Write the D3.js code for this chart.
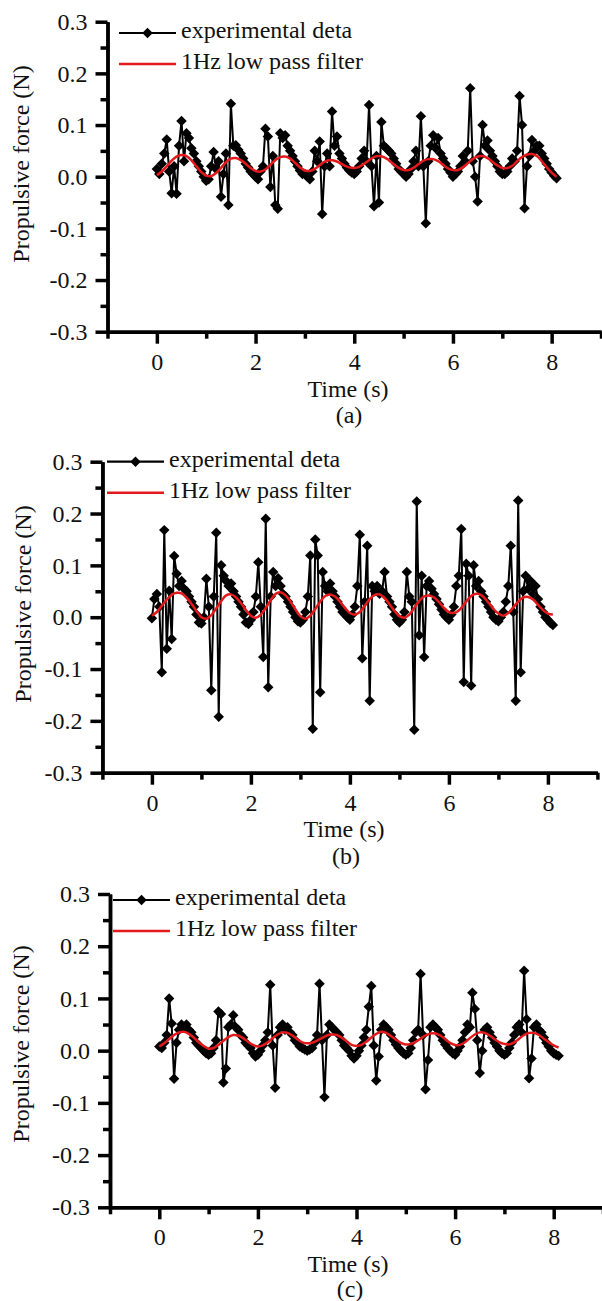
<!DOCTYPE html>
<html>
<head>
<meta charset="UTF-8" />
<title>Propulsive force vs time</title>
<script src="https://d3js.org/d3.v7.min.js"></script>
<style>
  body { margin: 0; background: #fff; }
  svg text { font-family: "Liberation Serif", "Times New Roman", serif; fill: #111; }
</style>
</head>
<body>
<svg width="602" height="1301"></svg>
<script>
// sampling intervals (s)
const dtExp = 0.05;
const dtFilt = 0.1;

const xMajor = [0, 2, 4, 6, 8];
const xMinor = [-1, 1, 3, 5, 7, 9];
const yMajor = [-0.3, -0.2, -0.1, 0.0, 0.1, 0.2, 0.3];
const yMinor = [-0.25, -0.15, -0.05, 0.05, 0.15, 0.25];
const legendLabels = ["experimental deta", "1Hz low pass filter"];
const xTitle = "Time (s)";
const yTitle = "Propulsive force (N)";

// (a) experimental data, one value every 0.05 s
const expA = [
  0.015, 0.005, 0.025, 0.045, 0.072, 0.010, -0.032, 0.020, -0.033, 0.060, 0.108, 0.030, 0.084, 0.075, 0.055, 0.045, 0.030, 0.020, 0.010, 0.000,
  -0.008, -0.005, 0.020, 0.048, 0.015, 0.030, -0.039, 0.005, 0.045, -0.055, 0.141, 0.060, 0.061, 0.052, 0.045, 0.035, 0.025, 0.018, 0.010, 0.005,
  0.000, -0.005, 0.010, 0.020, 0.093, 0.078, -0.020, 0.040, -0.055, -0.062, 0.084, 0.075, 0.080, 0.060, 0.050, 0.040, 0.030, 0.020, 0.012, 0.005,
  0.005, 0.000, -0.005, 0.010, 0.050, 0.030, 0.068, -0.072, 0.020, 0.045, 0.020, 0.126, 0.060, 0.078, 0.045, 0.035, 0.025, 0.018, 0.012, 0.008,
  0.005, 0.010, 0.020, 0.035, 0.050, 0.030, 0.139, 0.020, -0.057, 0.040, -0.050, 0.106, 0.060, 0.055, 0.050, 0.045, 0.035, 0.025, 0.015, 0.010,
  0.005, 0.000, 0.005, 0.015, 0.030, 0.050, 0.020, 0.117, 0.020, -0.090, 0.030, 0.060, 0.080, 0.055, 0.075, 0.045, 0.035, 0.025, 0.015, 0.008,
  0.000, 0.005, 0.010, 0.020, 0.040, 0.030, 0.050, 0.171, 0.030, 0.000, -0.048, 0.040, 0.100, 0.060, 0.070, 0.050, 0.040, 0.030, 0.020, 0.010,
  0.005, 0.005, 0.010, 0.020, 0.035, 0.030, 0.050, 0.156, 0.100, -0.061, 0.020, 0.040, 0.071, 0.050, 0.060, 0.060, 0.045, 0.035, 0.025, 0.015, 0.008, 0.002, -0.003
];
// (a) 1 Hz low pass, one value every 0.1 s
const filtA = [
  0.003, 0.010, 0.020, 0.031, 0.039, 0.042, 0.040, 0.032, 0.020, 0.009,
  0.002, 0.001, 0.007, 0.017, 0.028, 0.035, 0.036, 0.032, 0.025, 0.017,
  0.011, 0.010, 0.014, 0.023, 0.032, 0.038, 0.039, 0.035, 0.027, 0.018,
  0.012, 0.011, 0.015, 0.022, 0.029, 0.032, 0.031, 0.027, 0.022, 0.018,
  0.017, 0.019, 0.025, 0.032, 0.038, 0.040, 0.038, 0.032, 0.024, 0.017,
  0.013, 0.013, 0.017, 0.024, 0.031, 0.034, 0.034, 0.030, 0.023, 0.016,
  0.013, 0.013, 0.018, 0.026, 0.034, 0.039, 0.040, 0.036, 0.029, 0.022,
  0.017, 0.017, 0.021, 0.030, 0.038, 0.043, 0.044, 0.040, 0.030, 0.018,
  0.008, 0.000
];

// (b)
const expB = [
  -0.002, 0.035, 0.045, 0.020, -0.106, 0.168, -0.061, 0.051, -0.042, 0.118, 0.084, 0.060, 0.070, 0.055, 0.050, 0.040, 0.030, 0.020, 0.005, -0.010,
  -0.012, 0.000, 0.074, 0.020, -0.141, 0.040, 0.163, -0.192, 0.100, 0.080, 0.070, 0.060, 0.065, 0.050, 0.040, 0.030, 0.020, 0.005, -0.010, -0.013,
  -0.005, 0.010, 0.040, 0.106, 0.020, -0.077, 0.190, -0.135, 0.040, 0.087, 0.060, 0.075, 0.060, 0.045, 0.040, 0.030, 0.020, 0.010, 0.000, -0.008,
  -0.010, -0.005, 0.010, 0.040, 0.119, -0.215, 0.150, 0.119, -0.145, 0.087, 0.060, 0.050, 0.065, 0.050, 0.040, 0.030, 0.020, 0.010, 0.005, 0.000,
  -0.005, 0.005, 0.020, 0.060, 0.159, -0.079, 0.030, 0.138, -0.161, 0.060, 0.050, 0.060, 0.045, 0.050, 0.087, 0.040, 0.030, 0.020, 0.005, -0.005,
  -0.010, -0.005, 0.010, 0.087, 0.040, 0.030, -0.217, 0.223, -0.035, 0.080, -0.077, 0.060, 0.070, 0.055, 0.045, 0.035, 0.025, 0.015, 0.005, 0.000,
  -0.005, 0.005, 0.020, 0.060, 0.080, 0.170, -0.125, 0.103, 0.080, -0.132, 0.100, 0.060, 0.070, 0.050, 0.040, 0.030, 0.020, 0.010, 0.000, -0.005,
  -0.008, 0.000, 0.010, 0.030, 0.060, 0.138, 0.010, -0.161, 0.225, -0.106, 0.050, 0.080, 0.055, 0.070, 0.045, 0.060, 0.035, 0.020, 0.010, 0.000, -0.005, -0.011, -0.015
];
const filtB = [
  0.003, 0.010, 0.022, 0.034, 0.043, 0.047, 0.046, 0.038, 0.026, 0.012,
  0.000, -0.003, 0.004, 0.017, 0.031, 0.042, 0.044, 0.038, 0.027, 0.014,
  0.003, -0.001, 0.005, 0.018, 0.033, 0.045, 0.048, 0.042, 0.030, 0.015,
  0.002, -0.003, 0.003, 0.016, 0.030, 0.041, 0.044, 0.040, 0.030, 0.018,
  0.008, 0.005, 0.010, 0.022, 0.035, 0.043, 0.044, 0.037, 0.025, 0.012,
  0.002, -0.001, 0.005, 0.018, 0.031, 0.040, 0.042, 0.038, 0.029, 0.018,
  0.010, 0.008, 0.013, 0.024, 0.036, 0.044, 0.045, 0.039, 0.028, 0.016,
  0.007, 0.003, 0.008, 0.019, 0.030, 0.038, 0.039, 0.034, 0.024, 0.014,
  0.007, 0.005
];

// (c)
const expC = [
  0.008, 0.005, 0.015, 0.030, 0.100, 0.052, -0.054, 0.015, 0.040, 0.050, 0.045, 0.050, 0.040, 0.035, 0.025, 0.015, 0.010, 0.005, 0.000, -0.005,
  -0.008, -0.005, 0.005, 0.020, 0.075, 0.070, -0.061, -0.034, 0.045, 0.050, 0.068, 0.045, 0.040, 0.030, 0.025, 0.015, 0.010, 0.005, -0.005, -0.011,
  -0.008, 0.000, 0.010, 0.020, 0.035, 0.126, 0.010, -0.071, 0.030, 0.045, 0.050, 0.040, 0.045, 0.035, 0.030, 0.020, 0.015, 0.008, 0.005, 0.002,
  0.000, 0.002, 0.005, 0.015, 0.030, 0.128, 0.020, -0.089, 0.030, 0.050, 0.045, 0.040, 0.035, 0.030, 0.020, 0.010, 0.005, 0.000, -0.010, -0.015,
  -0.010, 0.000, 0.010, 0.025, 0.040, 0.084, 0.124, 0.010, -0.057, -0.011, 0.040, 0.050, 0.045, 0.040, 0.030, 0.020, 0.012, 0.005, 0.000, -0.005,
  -0.008, -0.005, 0.005, 0.020, 0.035, 0.040, 0.147, 0.030, -0.074, -0.018, 0.045, 0.050, 0.045, 0.040, 0.030, 0.020, 0.012, 0.005, 0.000, -0.005,
  -0.008, 0.000, 0.008, 0.020, 0.035, 0.050, 0.045, 0.111, 0.080, 0.020, -0.043, 0.000, 0.040, 0.045, 0.035, 0.025, 0.015, 0.008, 0.000, -0.005,
  -0.008, -0.005, 0.005, 0.015, 0.030, 0.045, 0.050, 0.035, 0.153, 0.060, -0.053, -0.015, 0.045, 0.050, 0.040, 0.035, 0.025, 0.015, 0.008, 0.000, -0.005, -0.008, -0.010
];
const filtC = [
  0.008, 0.014, 0.022, 0.030, 0.035, 0.036, 0.032, 0.025, 0.016, 0.009,
  0.004, 0.005, 0.011, 0.019, 0.026, 0.030, 0.029, 0.024, 0.017, 0.011,
  0.008, 0.010, 0.016, 0.024, 0.031, 0.035, 0.034, 0.029, 0.022, 0.016,
  0.014, 0.015, 0.019, 0.024, 0.029, 0.031, 0.030, 0.025, 0.018, 0.011,
  0.009, 0.011, 0.017, 0.025, 0.032, 0.036, 0.034, 0.028, 0.021, 0.015,
  0.012, 0.013, 0.017, 0.023, 0.029, 0.033, 0.033, 0.029, 0.022, 0.015,
  0.011, 0.011, 0.016, 0.024, 0.031, 0.035, 0.034, 0.029, 0.022, 0.016,
  0.013, 0.012, 0.016, 0.023, 0.030, 0.034, 0.034, 0.030, 0.023, 0.016,
  0.010, 0.006
];

// page layout of the three panels
const panels = [
  { exp: expA, filt: filtA, caption: "(a)", left: 107.5, right: 601, top: 21.7, bottom: 331.7,
    legX: 119, legY: 33, labX: 29, labY: 164, titleX: 348, titleY: 397, capX: 349, capY: 423 },
  { exp: expB, filt: filtB, caption: "(b)", left: 102.4, right: 597.4, top: 461.7, bottom: 772.7,
    legX: 107, legY: 461.7, labX: 31, labY: 604, titleX: 344, titleY: 837, capX: 346, capY: 864 },
  { exp: expC, filt: filtC, caption: "(c)", left: 110, right: 603, top: 894, bottom: 1207.3,
    legX: 113, legY: 900, labX: 29, labY: 1044, titleX: 348, titleY: 1272, capX: 350, capY: 1297 }
];

const svg = d3.select("svg");
const diamond = d3.symbol().type(d3.symbolSquare).size(55);
const red = "#e3191c";
const serif = '"Liberation Serif", "Times New Roman", serif';

function styleAxis(sel) {
  sel.attr("font-family", serif).attr("font-size", 24);
  sel.selectAll("path, line").attr("stroke", "#000").attr("stroke-width", 3.5);
  sel.selectAll("text").attr("fill", "#111");
}

panels.forEach(p => {
  const g = svg.append("g");
  const x = d3.scaleLinear().domain([-1, 9]).range([p.left, p.right]);
  const y = d3.scaleLinear().domain([-0.3, 0.3]).range([p.bottom, p.top]);

  // axes: major ticks with labels, then short minor ticks
  g.append("g").attr("transform", `translate(0,${p.bottom})`)
    .call(d3.axisBottom(x).tickValues(xMinor).tickSize(7).tickSizeOuter(0).tickFormat(""))
    .call(styleAxis);
  g.append("g").attr("transform", `translate(0,${p.bottom})`)
    .call(d3.axisBottom(x).tickValues(xMajor).tickSize(12).tickSizeOuter(0).tickPadding(9).tickFormat(d3.format("d")))
    .call(styleAxis);
  g.append("g").attr("transform", `translate(${p.left},0)`)
    .call(d3.axisLeft(y).tickValues(yMinor).tickSize(7).tickSizeOuter(0).tickFormat(""))
    .call(styleAxis);
  g.append("g").attr("transform", `translate(${p.left},0)`)
    .call(d3.axisLeft(y).tickValues(yMajor).tickSize(12).tickSizeOuter(0).tickPadding(8).tickFormat(d => d.toFixed(1)))
    .call(styleAxis);

  // experimental data
  const pts = p.exp.map((v, i) => [i * dtExp, v]);
  g.append("path").datum(pts)
    .attr("fill", "none").attr("stroke", "#000").attr("stroke-width", 2)
    .attr("d", d3.line().x(d => x(d[0])).y(d => y(d[1])));
  g.append("g").selectAll("path").data(pts).join("path")
    .attr("d", diamond).attr("fill", "#000")
    .attr("transform", d => `translate(${x(d[0])},${y(d[1])}) rotate(45)`);

  // filtered curve
  const fpts = p.filt.map((v, i) => [i * dtFilt, v]);
  g.append("path").datum(fpts)
    .attr("fill", "none").attr("stroke", red).attr("stroke-width", 2.5)
    .attr("d", d3.line().curve(d3.curveCatmullRom).x(d => x(d[0])).y(d => y(d[1])));

  // legend
  const lg = g.append("g").attr("transform", `translate(${p.legX},${p.legY})`);
  lg.append("line").attr("x1", 0).attr("x2", 57).attr("stroke", "#000").attr("stroke-width", 2.2);
  lg.append("path").attr("d", diamond).attr("fill", "#000").attr("transform", "translate(28.5,0) rotate(45)");
  lg.append("line").attr("x1", 0).attr("x2", 57).attr("y1", 31).attr("y2", 31).attr("stroke", red).attr("stroke-width", 2.5);
  lg.selectAll("text").data(legendLabels).join("text")
    .attr("x", 62).attr("y", (d, i) => 5 + i * 31)
    .attr("font-family", serif).attr("font-size", 24).text(d => d);

  // titles
  g.append("text").attr("transform", `translate(${p.labX},${p.labY}) rotate(-90)`)
    .attr("text-anchor", "middle").attr("font-family", serif).attr("font-size", 24).text(yTitle);
  g.append("text").attr("x", p.titleX).attr("y", p.titleY)
    .attr("text-anchor", "middle").attr("font-family", serif).attr("font-size", 24).text(xTitle);
  g.append("text").attr("x", p.capX).attr("y", p.capY)
    .attr("text-anchor", "middle").attr("font-family", serif).attr("font-size", 24).text(p.caption);
});
</script>
</body>
</html>
